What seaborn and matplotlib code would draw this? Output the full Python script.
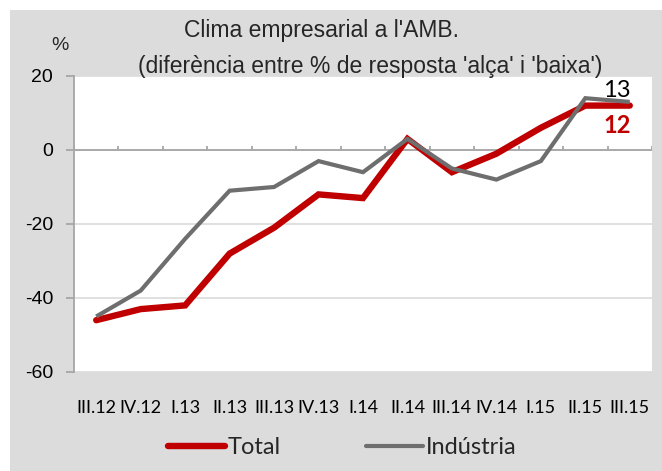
import numpy as np
import pandas as pd
import seaborn as sns
import matplotlib.pyplot as plt
from matplotlib.patches import Rectangle
from matplotlib.lines import Line2D

# data (%, balance 'alça' - 'baixa')
quarters = ['III.12', 'IV.12', 'I.13', 'II.13', 'III.13', 'IV.13', 'I.14',
            'II.14', 'III.14', 'IV.14', 'I.15', 'II.15', 'III.15']
total = [-46, -43, -42, -28, -21, -12, -13, 3, -6, -1, 6, 12, 12]
industria = [-45, -38, -24, -11, -10, -3, -6, 3, -5, -8, -3, 14, 13]

red = '#C00000'
grey = '#6E6E6E'
axis_grey = '#A6A6A6'

sns.set_theme(style='white')
plt.rcParams['font.family'] = ['Liberation Sans', 'DejaVu Sans']
plt.rcParams['axes.unicode_minus'] = False

pos = np.arange(len(quarters))
df_total = pd.DataFrame({'pos': pos, 'valor': total})
df_ind = pd.DataFrame({'pos': pos, 'valor': industria})

fig = plt.figure(figsize=(6.62, 4.71), dpi=100)
fig.patch.set_facecolor('white')
# grey chart area (Excel style)
fig.add_artist(Rectangle((10 / 662, 0), 1, 461 / 471, transform=fig.transFigure,
                         facecolor='#DCDCDC', edgecolor='none', zorder=-10))

ax = fig.add_axes([74 / 662, 99 / 471, 578 / 662, 296 / 471])
ax.set_facecolor('white')

sns.lineplot(data=df_total, x='pos', y='valor', color=red, lw=4.6, ax=ax,
             solid_capstyle='round', solid_joinstyle='miter', zorder=3)
sns.lineplot(data=df_ind, x='pos', y='valor', color=grey, lw=3.0, ax=ax,
             solid_capstyle='butt', solid_joinstyle='miter', zorder=4)

ax.set_xlim(-0.5, len(quarters) - 0.5)
ax.set_ylim(-60, 20)

# category axis crosses at 0
ax.axhline(0, color=axis_grey, lw=1.3, zorder=2)
ax.vlines(np.arange(-0.5, len(quarters)), 0, 1.2, color=axis_grey, lw=1.3, zorder=2)

for s in ['top', 'right', 'bottom']:
    ax.spines[s].set_visible(False)
ax.spines['left'].set_color(axis_grey)
ax.spines['left'].set_linewidth(1.3)

ax.set_yticks([20, 0, -20, -40, -60])
ax.tick_params(axis='y', left=True, length=6, width=1.3, color=axis_grey,
               labelsize=14, pad=9, labelcolor='black')
ax.yaxis.grid(True, color='#DADADA', lw=1.2)
ax.set_axisbelow(True)

ax.set_xticks(pos)
ax.set_xticklabels(quarters, fontfamily='Lato', fontsize=13)
ax.tick_params(axis='x', length=0, pad=20, labelcolor='black')
ax.set_xlabel('')
ax.set_ylabel('')

# end labels
ax.annotate(str(industria[-1]), xy=(pos[-1], industria[-1]), xytext=(-13, 11),
            textcoords='offset pixels', ha='center', va='center',
            fontfamily='Lato', fontsize=17, color='black')
ax.annotate(str(total[-1]), xy=(pos[-1], total[-1]), xytext=(-13, -20),
            textcoords='offset pixels', ha='center', va='center',
            fontfamily='Lato', fontsize=17, fontweight='bold', color=red)

fig.text(322 / 662, 1 - 30 / 471, "Clima empresarial a l'AMB.", ha='center',
         va='center', fontsize=16.5)
fig.text(370 / 662, 1 - 67 / 471, "(diferència entre % de resposta 'alça' i 'baixa')",
         ha='center', va='center', fontsize=16.5)
fig.text(60 / 662, 1 - 45 / 471, '%', ha='center', va='center', fontsize=14)

handles = [Line2D([], [], color=red, lw=4.6, solid_capstyle='round'),
           Line2D([], [], color=grey, lw=3.0, solid_capstyle='round')]
fig.legend(handles, ['Total', 'Indústria'], loc='center', bbox_to_anchor=(0.517, 23 / 471),
           ncol=2, frameon=False, prop={'family': 'Lato', 'size': 17},
           handlelength=2.4, handletextpad=0.13, columnspacing=3.6)

fig.savefig('out.png', dpi=100)
